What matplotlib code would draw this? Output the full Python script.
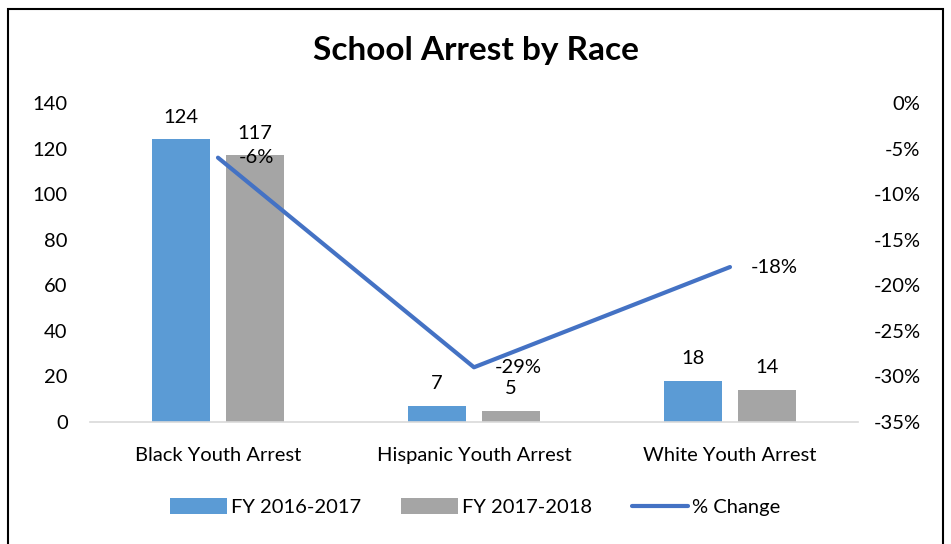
import numpy as np
import matplotlib.pyplot as plt
from matplotlib.patches import Rectangle

categorias = ["Black Youth Arrest", "Hispanic Youth Arrest", "White Youth Arrest"]
fy_2016 = [124, 7, 18]
fy_2017 = [117, 5, 14]
cambio = [-6, -29, -18]  # porcentaje

plt.rcParams['font.family'] = ['Lato', 'DejaVu Sans']
fs = 14.5

fig = plt.figure(figsize=(9.51, 5.44), dpi=100)
fig.patch.set_facecolor('white')
ax = fig.add_axes([0.0946, 0.2243, 0.8076, 0.5864])

x = np.arange(len(categorias))
ancho = 0.227
off = 0.144
b1 = ax.bar(x - off, fy_2016, ancho, color='#5B9BD5', label='FY 2016-2017', zorder=2)
b2 = ax.bar(x + off, fy_2017, ancho, color='#A5A5A5', label='FY 2017-2018', zorder=2)

for rect, v in zip(b1, fy_2016):
    ax.text(rect.get_x() + rect.get_width() / 2, v + 6, str(v), ha='center', va='bottom', fontsize=fs)
for rect, v in zip(b2, fy_2017):
    ax.text(rect.get_x() + rect.get_width() / 2, v + 6, str(v), ha='center', va='bottom', fontsize=fs)

ax.set_xlim(-0.5, 2.5)
ax.set_ylim(0, 140)
ax.set_yticks(range(0, 141, 20))
ax.set_xticks(x)
ax.set_xticklabels(categorias, fontsize=fs)
ax.tick_params(axis='y', length=0, pad=16, labelsize=fs)
ax.tick_params(axis='x', length=0, pad=18)
for s in ['top', 'right', 'left']:
    ax.spines[s].set_visible(False)
ax.spines['bottom'].set_color('#D9D9D9')
ax.spines['bottom'].set_linewidth(1.2)

ax2 = ax.twinx()
ln, = ax2.plot(x, cambio, color='#4472C4', linewidth=3, label='% Change', zorder=3, solid_capstyle='round')
ax2.set_ylim(-35, 0)
ax2.set_yticks(range(-35, 1, 5))
ax2.set_yticklabels([f'{t}%' for t in range(-35, 1, 5)])
ax2.tick_params(axis='y', length=0, pad=45, labelsize=fs)
for lab in ax2.get_yticklabels():
    lab.set_horizontalalignment('right')
for s in ax2.spines.values():
    s.set_visible(False)

for xi, c in zip(x, cambio):
    ax2.annotate(f'{c}%', (xi, c), xytext=(15, 0), textcoords='offset points',
                 ha='left', va='center', fontsize=fs)

fig.text(0.5, 0.908, 'School Arrest by Race', ha='center', va='center', fontsize=24, fontweight='bold')

handles = [b1, b2, ln]
fig.legend(handles, [h.get_label() for h in handles], loc='center', bbox_to_anchor=(0.5, 0.068),
           ncol=3, frameon=False, fontsize=fs, handlelength=2.8, handleheight=0.8,
           columnspacing=2.0, handletextpad=0.2)

fig.patches.append(Rectangle((8 / 951, -0.01), 935 / 951, 0.9935, transform=fig.transFigure,
                             fill=False, edgecolor='black', linewidth=1.5))

fig.savefig('out.png', dpi=100)
